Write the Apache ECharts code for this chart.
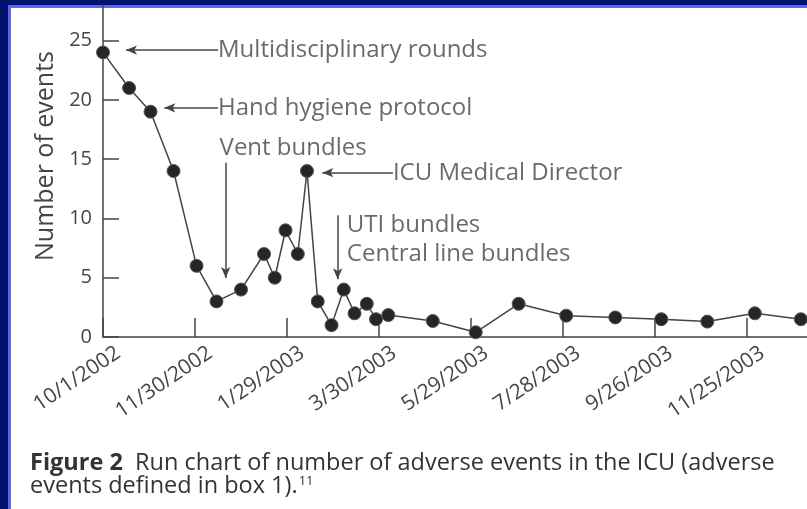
<!DOCTYPE html>
<html>
<head>
<meta charset="utf-8">
<script src="https://cdn.jsdelivr.net/npm/echarts@6/dist/echarts.min.js"></script>
<style>
html,body{margin:0;padding:0;width:807px;height:509px;overflow:hidden;background:#00126b;}
#panel{position:absolute;left:8px;top:5px;width:799px;height:504px;background:#fff;border-left:3px solid #5b66ee;border-top:3px solid #5b66ee;box-sizing:border-box;}
#chart{position:absolute;left:0;top:0;width:807px;height:509px;}
</style>
</head>
<body>
<div id="panel"></div>
<div id="chart"></div>
<script>
// ---- data ----
const startDate = '2002-10-01';
const eventDates = ['2002-10-01','2002-10-18','2002-11-01','2002-11-16','2002-12-01','2002-12-14','2002-12-30',
  '2003-01-14','2003-01-21','2003-01-28','2003-02-05','2003-02-11','2003-02-18','2003-02-27','2003-03-07',
  '2003-03-14','2003-03-22','2003-03-28','2003-04-05','2003-05-04','2003-06-01','2003-06-29','2003-07-30',
  '2003-08-31','2003-09-30','2003-10-30','2003-11-30','2003-12-30'];
const eventCounts = [24,21,19,14,6,3,4,7,5,9,7,14,3,1,4,2,2.8,1.5,1.85,1.35,0.4,2.8,1.8,1.65,1.5,1.3,2.0,1.5];
const xTickLabels = ['10/1/2002','11/30/2002','1/29/2003','3/30/2003','5/29/2003','7/28/2003','9/26/2003','11/25/2003'];
const yTicks = [0,5,10,15,20,25];
const annotationArrows = [
  {from:['2002-12-15',24.2], to:['2002-10-16',24.2]},
  {from:['2002-12-15',19.33], to:['2002-11-10',19.33]},
  {from:['2002-12-20',14.7], to:['2002-12-20',4.97]},
  {from:['2003-04-08',13.86], to:['2003-02-21',13.86]},
  {from:['2003-03-03',10.27], to:['2003-03-03',4.88]}
];
const annotationTexts = [
  {text:'Multidisciplinary rounds', at:['2002-12-15',24.2]},
  {text:'Hand hygiene protocol', at:['2002-12-15',19.33]},
  {text:'Vent bundles', at:['2002-12-16',15.9]},
  {text:'ICU Medical Director', at:['2003-04-08',13.86]},
  {text:'UTI bundles', at:['2003-03-09',9.43]},
  {text:'Central line bundles', at:['2003-03-09',6.99]}
];
const captionBold = 'Figure 2';
const captionText = 'Run chart of number of adverse events in the ICU (adverse';
const captionText2 = 'events defined in box 1).';
const captionRef = '11';
const yAxisTitle = 'Number of events';

// ---- helpers ----
function isoDay(s){const p=s.split('-').map(Number);return Date.UTC(p[0],p[1]-1,p[2]);}
function usDay(s){const p=s.split('/').map(Number);return Date.UTC(p[2],p[0]-1,p[1]);}
const DAY=86400000, t0=isoDay(startDate);
const dayOf = s => Math.round((isoDay(s)-t0)/DAY);
const tickDays = xTickLabels.map(s => Math.round((usDay(s)-t0)/DAY));
const labelByDay = {}; tickDays.forEach((d,i)=>labelByDay[d]=xTickLabels[i]);
const seriesData = eventDates.map((d,i)=>[dayOf(d), eventCounts[i]]);

const FONT = 'Open Sans';
const TXT = '#454545';
const chart = echarts.init(document.getElementById('chart'));
chart.setOption({
  animation:false,
  textStyle:{fontFamily:FONT},
  title:{
    left:25, top:447,
    text:'{b|'+captionBold+'}  '+captionText+'\n'+captionText2+'{sup|'+captionRef+'}',
    textStyle:{fontFamily:FONT, fontSize:23.5, fontWeight:'normal', color:'#333', lineHeight:23,
      rich:{b:{fontFamily:FONT,fontSize:23.5,fontWeight:'bold',color:'#333',lineHeight:23},
            sup:{fontFamily:FONT,fontSize:13,color:'#333',verticalAlign:'top',lineHeight:23,padding:[0,0,8,1]}}}
  },
  grid:{left:103, right:0, top:5, bottom:172, containLabel:false},
  xAxis:[{
    type:'value', min:0, max:459,
    axisLine:{show:true, lineStyle:{color:'#444', width:1.5}},
    axisTick:{show:true, inside:true, length:19, customValues:tickDays, lineStyle:{color:'#444', width:1.5}},
    axisLabel:{show:false},
    splitLine:{show:false}
  },{
    type:'value', min:-10, max:449, position:'bottom',
    axisLine:{show:false}, axisTick:{show:false}, splitLine:{show:false},
    axisLabel:{show:true, customValues:tickDays, rotate:34, margin:14, fontSize:21, color:TXT, fontFamily:FONT,
      formatter: v => labelByDay[v] || ''}
  }],
  yAxis:{
    type:'value', min:0, max:28,
    name:yAxisTitle, nameLocation:'middle', nameGap:41, nameRotate:90,
    nameTextStyle:{fontSize:25, color:TXT, fontFamily:FONT, padding:[0,0,0,30]},
    axisLine:{show:true, lineStyle:{color:'#444', width:1.5}},
    axisTick:{show:true, inside:true, length:16, customValues:yTicks, lineStyle:{color:'#444', width:1.5}},
    axisLabel:{customValues:yTicks, fontSize:20, color:TXT, margin:11, fontFamily:FONT},
    splitLine:{show:false}
  },
  series:[{
    type:'line', xAxisIndex:0, data:seriesData, clip:false,
    symbol:'circle', symbolSize:13,
    lineStyle:{color:'#444', width:1.5},
    itemStyle:{color:'#262626', borderColor:'#555', borderWidth:1},
    markLine:{
      silent:true, symbol:['none','arrow'], symbolSize:[7,11],
      lineStyle:{color:'#444', width:1.5, type:'solid'},
      label:{show:false},
      data: annotationArrows.map(a=>[{coord:[dayOf(a.from[0]),a.from[1]]},{coord:[dayOf(a.to[0]),a.to[1]]}])
    }
  },{
    type:'scatter', xAxisIndex:0, symbolSize:0, silent:true,
    data: annotationTexts.map(a=>({value:[dayOf(a.at[0]),a.at[1]],
      label:{show:true, position:'right', distance:0, formatter:a.text, fontSize:24, color:TXT, fontFamily:FONT}}))
  }]
});
</script>
</body>
</html>
